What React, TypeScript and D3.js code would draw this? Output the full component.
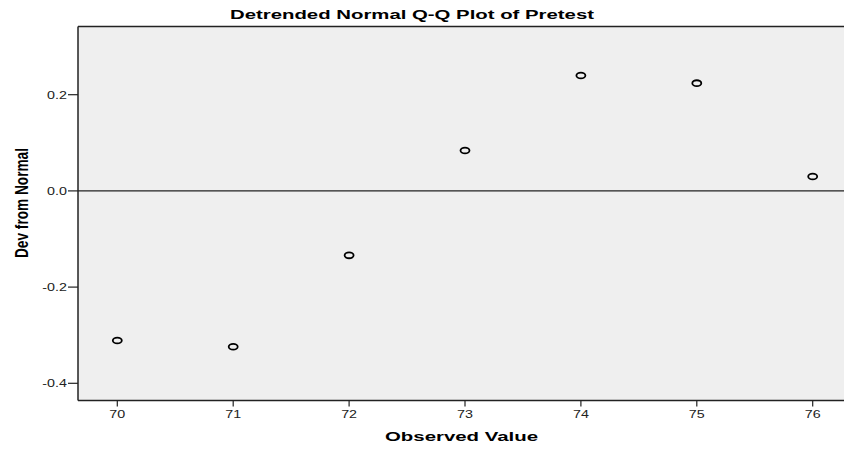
import React from "react";
import * as d3 from "d3";

const observed = [70, 71, 72, 73, 74, 75, 76];
const devFromNormal = [-0.311, -0.324, -0.134, 0.084, 0.240, 0.224, 0.030];
const xTicks = [70, 71, 72, 73, 74, 75, 76];
const yTicks = [0.2, 0.0, -0.2, -0.4];

export default function App() {
  const W = 844, H = 450;
  const left = 78, top = 26.5, bottom = 400.5, right = 844;
  const x = d3.scaleLinear().domain([70, 76]).range([117.3, 812.7]);
  const y = d3.scaleLinear().domain([-0.4, 0.2]).range([383.3, 94.7]);
  const fmt = (v: number) => d3.format(".1f")(v).replace("\u2212", "-");
  return (
    <svg width={W} height={H} style={{ position: "absolute", left: 0, top: 0 }}
      fontFamily="'Liberation Sans', Arial, sans-serif">
      <rect x={0} y={0} width={W} height={H} fill="#ffffff" />
      <rect x={left} y={top} width={right - left} height={bottom - top} fill="#efefef" />
      <line x1={left} x2={right} y1={top} y2={top} stroke="#222" strokeWidth={1.5} />
      <line x1={left} x2={right} y1={y(0)} y2={y(0)} stroke="#222" strokeWidth={1.2} />
      <line x1={left} x2={left} y1={top} y2={bottom} stroke="#222" strokeWidth={1.5} />
      <line x1={left} x2={right} y1={bottom} y2={bottom} stroke="#222" strokeWidth={1.5} />
      {yTicks.map((t) => (
        <g key={t}>
          <line x1={left - 10} x2={left} y1={y(t)} y2={y(t)} stroke="#222" strokeWidth={1.2} />
          <text transform={`translate(${left - 11},${y(t)}) scale(1.3,1)`} dy="0.35em"
            textAnchor="end" fontSize={11} fill="#222">{fmt(t)}</text>
        </g>
      ))}
      {xTicks.map((t) => (
        <g key={t}>
          <line x1={x(t)} x2={x(t)} y1={bottom} y2={bottom + 6} stroke="#222" strokeWidth={1.2} />
          <text transform={`translate(${x(t)},${bottom + 17}) scale(1.3,1)`}
            textAnchor="middle" fontSize={11} fill="#222">{t}</text>
        </g>
      ))}
      {observed.map((v, i) => (
        <ellipse key={v} cx={x(v)} cy={y(devFromNormal[i])} rx={4.5} ry={2.9}
          fill="none" stroke="#000" strokeWidth={1.8} />
      ))}
      <text x={230} y={19} fontSize={13.5} fontWeight="bold" fill="#000"
        textLength={364} lengthAdjust="spacingAndGlyphs">
        Detrended Normal Q-Q Plot of Pretest
      </text>
      <text x={385} y={441} fontSize={12} fontWeight="bold" fill="#000"
        textLength={153} lengthAdjust="spacingAndGlyphs">
        Observed Value
      </text>
      <text transform={`translate(28,258) rotate(-90)`} fontSize={19}
        fontWeight="bold" fill="#000" textLength={110} lengthAdjust="spacingAndGlyphs">
        Dev from Normal
      </text>
    </svg>
  );
}
